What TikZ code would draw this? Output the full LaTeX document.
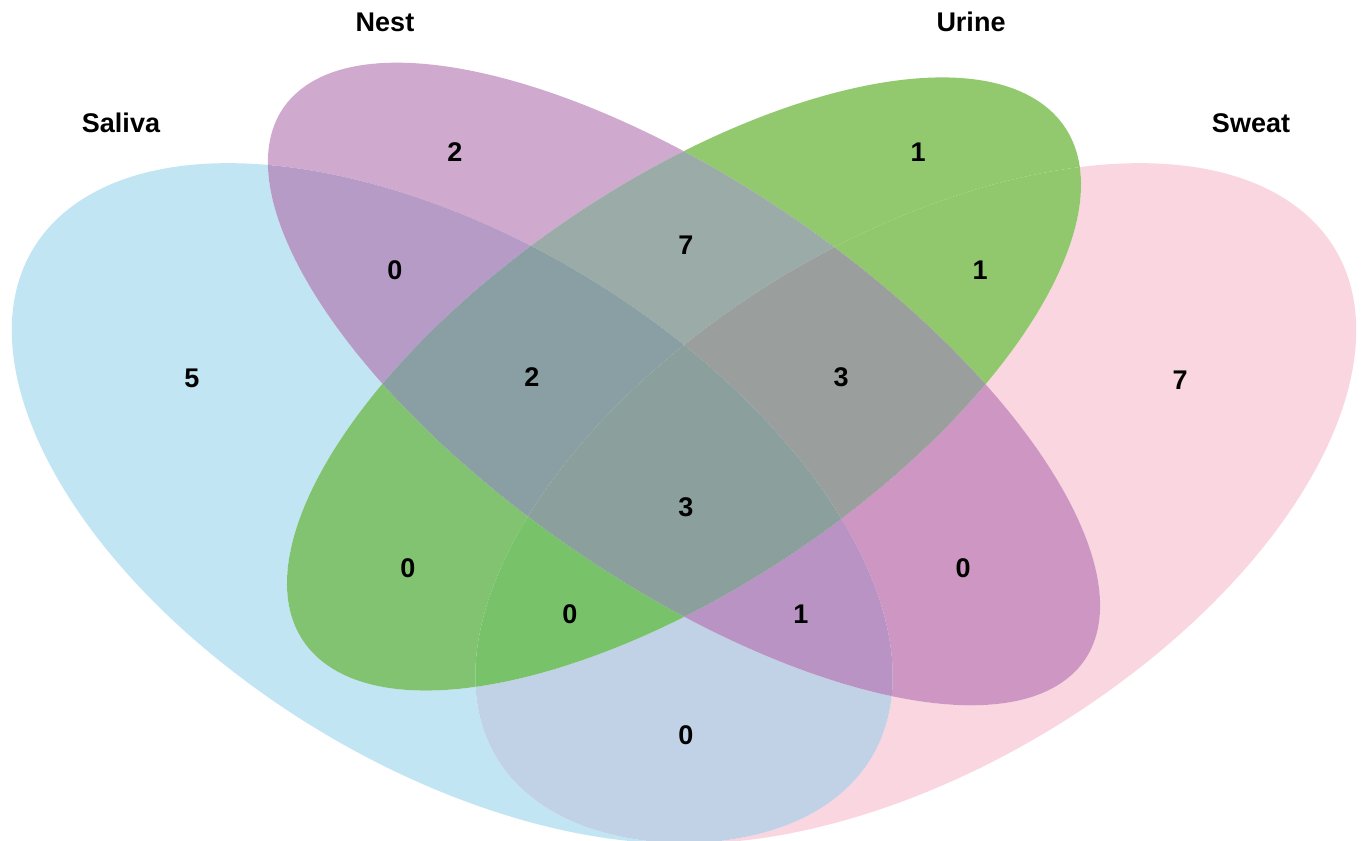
\documentclass[tikz,border=0pt]{standalone}
\usepackage{fontspec}
\setmainfont{Liberation Sans}

% region colours
\definecolor{rS}{HTML}{C2E5F4}
\definecolor{rN}{HTML}{D0A9CE}
\definecolor{rU}{HTML}{93C96E}
\definecolor{rW}{HTML}{F9D6E0}
\definecolor{rSN}{HTML}{B69BC7}
\definecolor{rNU}{HTML}{9BACA8}
\definecolor{rUW}{HTML}{92C86D}
\definecolor{rSNU}{HTML}{8A9FA3}
\definecolor{rNUW}{HTML}{9A9F9D}
\definecolor{rSNUW}{HTML}{8B9F9C}
\definecolor{rSU}{HTML}{82C371}
\definecolor{rSUW}{HTML}{78C36A}
\definecolor{rSNW}{HTML}{B893C3}
\definecolor{rNW}{HTML}{CE96C3}
\definecolor{rSW}{HTML}{C2D2E6}

% clip to the inside / outside of each set (outside uses the even odd rule of the scope)
\newcommand\SalIn{\clip[eS] (0,0) ellipse [x radius=0.35, y radius=0.2];}
\newcommand\SalOut{\clip[eS] (-3,-3) rectangle (3,3) (0,0) ellipse [x radius=0.35, y radius=0.2];}
\newcommand\NesIn{\clip[eN] (0,0) ellipse [x radius=0.35, y radius=0.15];}
\newcommand\NesOut{\clip[eN] (-3,-3) rectangle (3,3) (0,0) ellipse [x radius=0.35, y radius=0.15];}
\newcommand\UriIn{\clip[eU] (0,0) ellipse [x radius=0.33, y radius=0.152];}
\newcommand\UriOut{\clip[eU] (-3,-3) rectangle (3,3) (0,0) ellipse [x radius=0.33, y radius=0.152];}
\newcommand\SweIn{\clip[eW] (0,0) ellipse [x radius=0.35, y radius=0.2];}
\newcommand\SweOut{\clip[eW] (-3,-3) rectangle (3,3) (0,0) ellipse [x radius=0.35, y radius=0.2];}
\newcommand\vreg[2]{\begin{scope}[even odd rule]#2\fill[#1] (-3,-3) rectangle (3,3);\end{scope}}

\begin{document}
\begin{tikzpicture}[x=1pt, y=1pt,
  lab/.style={font=\fontsize{27}{32}\selectfont\bfseries, inner sep=0pt},
  eS/.style={shift={(0.35,0.47)}, rotate=-45},
  eN/.style={shift={(0.5,0.57)}, rotate=-45},
  eU/.style={shift={(0.5,0.57)}, rotate=45},
  eW/.style={shift={(0.65,0.47)}, rotate=45}]
\useasboundingbox (0,0) rectangle (1361,-841);
\fill[white] (0,0) rectangle (1361,-841);
\clip (0,0) rectangle (1361,-841);

\begin{scope}[shift={(-88.5,-1064)}, xscale=1545, yscale=1193]
  % single sets
  \vreg{rS}{\SalIn\NesOut\UriOut\SweOut}
  \vreg{rN}{\NesIn\SalOut\UriOut\SweOut}
  \vreg{rU}{\UriIn\SalOut\NesOut\SweOut}
  \vreg{rW}{\SweIn\SalOut\NesOut\UriOut}
  % pairs
  \vreg{rSN}{\SalIn\NesIn\UriOut\SweOut}
  \vreg{rSU}{\SalIn\UriIn\NesOut\SweOut}
  \vreg{rSW}{\SalIn\SweIn\NesOut\UriOut}
  \vreg{rNU}{\NesIn\UriIn\SalOut\SweOut}
  \vreg{rNW}{\NesIn\SweIn\SalOut\UriOut}
  \vreg{rUW}{\UriIn\SweIn\SalOut\NesOut}
  % triples
  \vreg{rSNU}{\SalIn\NesIn\UriIn\SweOut}
  \vreg{rSNW}{\SalIn\NesIn\SweIn\UriOut}
  \vreg{rSUW}{\SalIn\UriIn\SweIn\NesOut}
  \vreg{rNUW}{\NesIn\UriIn\SweIn\SalOut}
  % all four
  \vreg{rSNUW}{\SalIn\NesIn\UriIn\SweIn}
\end{scope}

% set names
\node[lab] (tSal) at (121,-123) {Saliva};
\node[lab] (tNes) at (385,-22) {Nest};
\node[lab] (tUri) at (971,-22) {Urine};
\node[lab] (tSwe) at (1251,-123) {Sweat};

% counts
\node[lab] (nS)    at (192,-378) {5};
\node[lab] (nN)    at (455,-152) {2};
\node[lab] (nU)    at (918,-152) {1};
\node[lab] (nW)    at (1180,-380) {7};
\node[lab] (nSN)   at (395,-270) {0};
\node[lab] (nNU)   at (686,-245) {7};
\node[lab] (nUW)   at (980,-270) {1};
\node[lab] (nSNU)  at (532,-377) {2};
\node[lab] (nNUW)  at (841,-377) {3};
\node[lab] (nSNUW) at (686,-507) {3};
\node[lab] (nSU)   at (408,-568) {0};
\node[lab] (nSUW)  at (570,-614) {0};
\node[lab] (nSNW)  at (801,-614) {1};
\node[lab] (nNW)   at (963,-568) {0};
\node[lab] (nSW)   at (686,-735) {0};
\end{tikzpicture}
\end{document}
